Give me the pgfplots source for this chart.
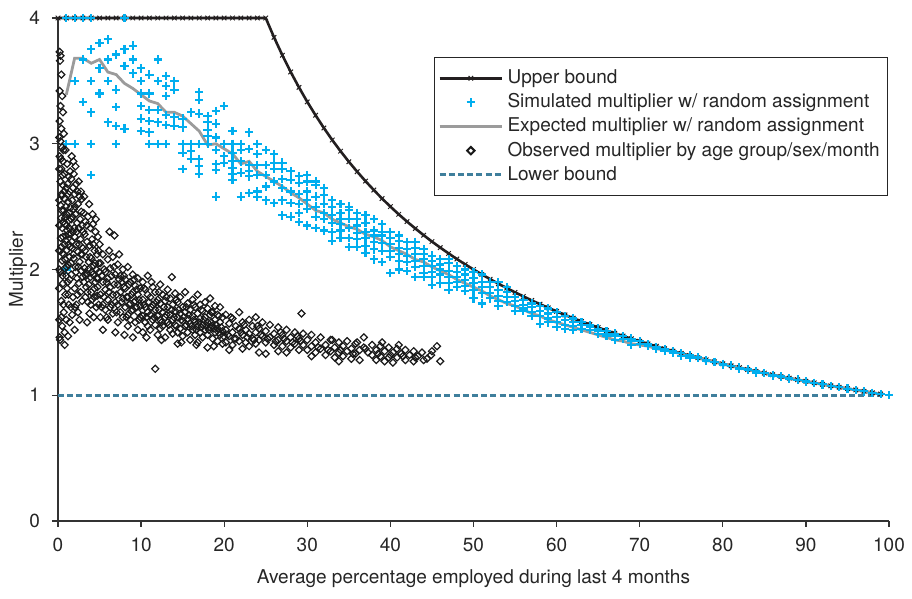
\documentclass[border=0pt]{standalone}
\usepackage{pgfplots}
\pgfplotsset{compat=1.18}
\usepackage{fontspec}
\setmainfont{TeX Gyre Heros}
\definecolor{ubcol}{HTML}{231F20}
\definecolor{simcol}{HTML}{00AEEF}
\definecolor{expcol}{HTML}{9B9B9B}
\definecolor{lbcol}{HTML}{3F7F9C}
\newcommand{\lfont}{\fontsize{9.5}{11}\selectfont}
\pgfplotsset{
  linelegend/.style={legend image code/.code={\draw[mark repeat=2,mark phase=2,##1] plot coordinates {(0cm,0cm)(0.55cm,0cm)(1.1cm,0cm)};}},
  marklegend/.style={legend image code/.code={\draw[##1] plot coordinates {(0.55cm,0cm)};}},
  diamlegend/.style={legend image code/.code={\draw[##1, mark size=1.3pt, mark options={line width=1pt, rotate=45}] plot coordinates {(0.55cm,0cm)};}},
}
\begin{document}
\begin{tikzpicture}
\begin{axis}[
  scale only axis, width=415.5pt, height=251.5pt,
  xmin=0, xmax=100, ymin=0, ymax=4,
  axis x line*=bottom, axis y line*=left,
  axis line style={line width=0.6pt, color=black!80, -},
  xtick={0,10,...,100}, ytick={0,1,2,3,4},
  tick align=outside, major tick length=3pt,
  tick style={line width=0.6pt, black!80},
  clip=false,
  xlabel={Average percentage employed during last 4 months},
  ylabel={Multiplier},
  ticklabel style={font=\lfont, text=black!85},
  xticklabel style={yshift=-2pt},
  yticklabel style={xshift=-2.5pt},
  label style={font=\lfont, text=black!85},
  xlabel style={at={(axis description cs:0.5,-0.115)}, anchor=center},
  ylabel style={at={(axis description cs:-0.048,0.5)}, anchor=center},
  /pgf/number format/assume math mode=true,
  legend style={at={(rel axis cs:0.999,0.922)}, anchor=north east,
    draw=black!85, line width=0.6pt, font=\lfont, text=black!85,
    cells={anchor=west}, row sep=-0.45pt, inner xsep=2pt, inner ysep=4pt},
]
\coordinate (O) at (rel axis cs:0,0);
% Upper bound
\addplot[color=ubcol, line width=1.3pt, mark=x, mark size=1.6pt,
  mark options={line width=0.5pt, solid}, linelegend]
coordinates {
(0,4)(1,4)(2,4)(3,4)(4,4)(5,4)(6,4)(7,4)(8,4)(9,4)(10,4)(11,4)(12,4)(13,4)(14,4)(15,4)(16,4)(17,4)(18,4)(19,4)(20,4)(21,4)(22,4)(23,4)(24,4)(25,4)
(26,3.846)(27,3.704)(28,3.571)(29,3.448)(30,3.333)(31,3.226)(32,3.125)(33,3.030)(34,2.941)(35,2.857)(36,2.778)(37,2.703)(38,2.632)(39,2.564)(40,2.5)
(41,2.439)(42,2.381)(43,2.326)(44,2.273)(45,2.222)(46,2.174)(47,2.128)(48,2.083)(49,2.041)(50,2.0)(51,1.961)(52,1.923)(53,1.887)(54,1.852)(55,1.818)
(56,1.786)(57,1.754)(58,1.724)(59,1.695)(60,1.667)(61,1.639)(62,1.613)(63,1.587)(64,1.5625)(65,1.538)(66,1.515)(67,1.493)(68,1.471)(69,1.449)(70,1.429)
(71,1.408)(72,1.389)(73,1.370)(74,1.351)(75,1.333)(76,1.316)(77,1.299)(78,1.282)(79,1.266)(80,1.25)(81,1.235)(82,1.220)(83,1.205)(84,1.190)(85,1.176)
(86,1.163)(87,1.149)(88,1.136)(89,1.124)(90,1.111)(91,1.099)(92,1.087)(93,1.075)(94,1.064)(95,1.053)(96,1.042)(97,1.031)(98,1.020)(99,1.010)
};
\addlegendentry{Upper bound}
% Simulated multiplier
\addplot[only marks, color=simcol, mark=+, mark size=2.1pt, mark options={line width=1.05pt}, marklegend]
coordinates {
(1,4)(1,3)(1,2)
(2,4)(2,3.5)(2,3)
(3,4)(3,3.67)(3,3.33)
(4,4)(4,3.75)(4,3.5)(4,3.25)(4,3)(4,2.75)
(5,3.8)(5,3.6)(5,3.4)
(6,3.83)(6,3.67)(6,3.5)(6,3.17)
(7,3.71)(7,3.43)(7,3.29)(7,3.14)(7,3)
(8,4)(8,3.75)(8,3.62)(8,3.12)
(9,3.78)(9,3.67)(9,3.56)
(10,3.6)(10,3.5)(10,3.4)(10,3.3)(10,3.2)(10,3.1)
(11,3.55)(11,3.4)(11,3.27)(11,3.18)(11,3.09)(11,3)
(12,3.67)(12,3.5)(12,3.27)(12,3.17)(12,3)
(13,3.54)(13,3.46)(13,3.38)(13,3.23)(13,3.15)(13,3)
(14,3.5)(14,3.43)(14,3.21)(14,3.14)
(15,3.2)(15,3.13)(15,3)(15,2.93)(15,2.8)
(16,3.25)(16,3)(16,2.94)(16,2.88)
(17,3.41)(17,3.35)(17,3.24)(17,3)(17,2.88)(17,2.82)(17,2.76)
(18,3.22)(18,3.17)(18,3.11)(18,3.06)(18,3)
(19,3.26)(19,3.16)(19,3.05)(19,2.95)(19,2.84)(19,2.79)(19,2.58)
(20,3.3)(20,3)(20,2.9)(20,2.85)
(21,3.1)(21,3)(21,2.93)(21,2.86)(21,2.81)(21,2.76)(21,2.71)
(22,3)(22,2.95)(22,2.86)(22,2.77)(22,2.58)
(23,3.09)(23,2.96)(23,2.83)(23,2.78)(23,2.74)(23,2.61)
(24,3)(24,2.92)(24,2.83)(24,2.75)(24,2.62)(24,2.58)
(25,2.95)(25,2.83)(25,2.75)(25,2.66)(25,2.55)
(26,2.92)(26,2.85)(26,2.8)(26,2.7)(26,2.53)
(27,2.85)(27,2.8)(27,2.72)(27,2.65)(27,2.55)(27,2.43)
(28,2.78)(28,2.71)(28,2.62)(28,2.53)(28,2.42)
(29,2.74)(29,2.69)(29,2.6)(29,2.52)(29,2.45)(29,2.38)
(30,2.75)(30,2.7)(30,2.62)(30,2.55)(30,2.48)(30,2.35)
(31,2.7)(31,2.67)(31,2.58)(31,2.5)(31,2.42)(31,2.33)
(32,2.65)(32,2.59)(32,2.52)(32,2.45)(32,2.4)(32,2.31)
(33,2.55)(33,2.5)(33,2.43)(33,2.37)(33,2.3)(33,2.23)
(34,2.52)(34,2.45)(34,2.4)(34,2.36)(34,2.31)(34,2.25)
(35,2.5)(35,2.47)(35,2.4)(35,2.33)(35,2.25)(35,2.18)
(36,2.45)(36,2.4)(36,2.35)(36,2.29)(36,2.24)(36,2.18)
(37,2.43)(37,2.37)(37,2.3)(37,2.25)(37,2.19)(37,2.13)
(38,2.4)(38,2.31)(38,2.27)(38,2.22)(38,2.16)(38,2.08)
(39,2.36)(39,2.3)(39,2.27)(39,2.21)(39,2.15)(39,2.06)
(40,2.3)(40,2.25)(40,2.2)(40,2.15)(40,2.1)(40,1.97)
(41,2.27)(41,2.23)(41,2.17)(41,2.12)(41,2.07)(41,2)
(42,2.22)(42,2.16)(42,2.11)(42,2.06)(42,1.99)
(43,2.22)(43,2.17)(43,2.12)(43,2.07)(43,2.02)(43,1.94)
(44,2.16)(44,2.12)(44,2.08)(44,2.03)(44,1.97)(44,1.94)
(45,2.11)(45,2.07)(45,2.03)(45,1.98)(45,1.94)(45,1.88)
(46,2.08)(46,2.04)(46,2)(46,1.96)(46,1.89)
(47,2.08)(47,2.05)(47,1.99)(47,1.94)(47,1.89)(47,1.84)
(48,2.03)(48,1.98)(48,1.94)(48,1.9)(48,1.86)
(49,2)(49,1.96)(49,1.92)(49,1.87)(49,1.83)
(50,1.98)(50,1.93)(50,1.89)(50,1.84)(50,1.77)
(51,1.96)(51,1.9)(51,1.86)(51,1.81)(51,1.73)
(52,1.9)(52,1.86)(52,1.81)(52,1.77)
(53,1.9)(53,1.84)(53,1.79)(53,1.75)(53,1.71)
(54,1.86)(54,1.82)(54,1.78)(54,1.74)
(55,1.78)(55,1.75)(55,1.71)(55,1.67)
(56,1.76)(56,1.72)(56,1.69)(56,1.67)
(57,1.73)(57,1.7)(57,1.66)(57,1.63)
(58,1.71)(58,1.67)(58,1.63)(58,1.57)
(59,1.69)(59,1.65)(59,1.61)(59,1.58)
(60,1.66)(60,1.62)(60,1.58)(60,1.545)
(61,1.63)(61,1.6)(61,1.56)(61,1.53)
(62,1.61)(62,1.58)(62,1.55)(62,1.52)
(63,1.58)(63,1.56)(63,1.53)
(64,1.56)(64,1.54)(64,1.52)
(65,1.53)(65,1.51)(65,1.49)
(66,1.51)(66,1.49)(66,1.47)
(67,1.49)(67,1.47)(67,1.44)
(68,1.47)(68,1.45)
(69,1.45)(69,1.43)(69,1.4)
(70,1.43)(70,1.41)
(71,1.405)(71,1.39)(72,1.385)(72,1.37)(73,1.37)(73,1.35)(74,1.35)(74,1.34)(75,1.333)(75,1.31)
(76,1.316)(76,1.3)(77,1.3)(78,1.28)(78,1.27)(79,1.265)(80,1.25)(80,1.24)(81,1.235)(82,1.22)(82,1.21)
(83,1.205)(84,1.19)(84,1.18)(85,1.176)(86,1.163)(86,1.155)(87,1.149)(88,1.136)(88,1.13)(89,1.124)
(90,1.111)(90,1.105)(91,1.099)(92,1.087)(93,1.075)(94,1.064)(95,1.053)(96,1.042)(97,1.031)(98,1.02)(99,1.01)(100,1)
};
\addlegendentry{Simulated multiplier w/ random assignment}
% Expected multiplier
\addplot[color=expcol, line width=1.4pt, linelegend]
coordinates {
(1,3.39)(2,3.68)(3,3.68)(4,3.64)(5,3.67)(6,3.57)(7,3.55)(8,3.48)(9,3.44)(10,3.39)
(11,3.34)(12,3.32)(13,3.25)(14,3.25)(15,3.22)(16,3.16)(17,3.10)(18,2.99)(19,3.00)(20,2.96)
(21,2.92)(22,2.84)(23,2.86)(24,2.78)(25,2.74)(26,2.70)(27,2.66)(28,2.61)(29,2.57)(30,2.52)
(31,2.47)(32,2.45)(33,2.40)(34,2.37)(35,2.34)(36,2.32)(37,2.28)(38,2.26)(39,2.23)(40,2.18)
(41,2.15)(42,2.12)(43,2.08)(44,2.06)(45,2.02)(46,1.99)(47,1.96)(48,1.92)(49,1.89)(50,1.86)
(51,1.83)(52,1.79)(53,1.76)(54,1.73)(55,1.71)(56,1.68)(57,1.65)(58,1.63)(59,1.60)(60,1.58)
(61,1.56)(62,1.54)(63,1.52)(64,1.50)(65,1.48)(66,1.46)(67,1.44)(68,1.43)(69,1.41)(70,1.40)
(71,1.39)(72,1.37)(73,1.36)(74,1.345)(75,1.33)(76,1.31)(77,1.295)(78,1.28)(79,1.265)(80,1.248)
(81,1.233)(82,1.218)(83,1.203)(84,1.189)(85,1.175)(86,1.162)(87,1.148)(88,1.135)(89,1.123)(90,1.110)
(91,1.098)(92,1.086)(93,1.075)(94,1.063)(95,1.052)(96,1.041)(97,1.030)(98,1.020)(99,1.010)
};
\addlegendentry{Expected multiplier w/ random assignment}
% Observed multiplier
\addplot[only marks, color=black!90, mark=square, mark size=1.25pt,
  mark options={rotate=45, line width=0.6pt}, diamlegend]
coordinates {
(0.2,3.73)(0.3,3.7)(0.25,3.66)(0.4,3.55)(0.2,3.42)(0.5,3.38)(0.3,3.3)(0.6,3.25)(0.2,3.18)(0.4,3.12)(0.7,3.08)(0.3,3.02)(0.5,2.97)(0.9,2.95)(0.2,2.9)(0.6,2.86)
(1.1,2.84)(0.4,2.8)(0.8,2.76)(1.3,2.74)(0.3,2.7)(0.6,2.67)(1,2.65)(1.4,2.62)(0.5,2.59)(0.8,2.56)(1.2,2.54)(0.3,2.51)(1.5,2.49)(0.7,2.47)(1,2.44)(0.4,2.41)
(1.3,2.39)(0.8,2.36)(0.5,2.33)(1.1,2.31)(1.5,2.28)(0.6,2.26)(0.9,2.23)(1.3,2.2)(0.4,2.18)(1,2.15)(0.7,2.12)(1.4,2.1)(0.5,2.07)(1.2,2.04)(0.8,2.01)(0.3,1.98)
(1,1.95)(1.4,1.92)(0.6,1.89)(1.1,1.85)(0.9,1.8)(0.4,1.75)(1.3,1.72)(0.7,1.66)(1,1.6)(0.5,1.55)(1.4,1.58)(0.8,1.5)(0.2,1.46)(1.2,1.47)(0.4,1.62)(0.25,1.44)(0.8,1.4)
(0.55,2.75)(0.95,2.5)(1.15,2.68)(0.65,2.38)(1.25,2.28)(0.75,2.2)(1.35,2.45)(0.45,2.6)(1.05,2.35)(0.85,2.08)(1.45,2.18)(0.35,2.25)
(1.6,2.72)(1.8,2.65)(2,2.6)(2.2,2.68)(1.7,2.55)(2.4,2.52)(2.6,2.58)(1.9,2.48)(2.1,2.44)(2.8,2.46)(1.6,2.4)(2.3,2.37)(2.5,2.33)(2.9,2.35)(1.8,2.3)(2,2.26)
(2.7,2.24)(2.2,2.2)(1.7,2.17)(2.4,2.14)(2.9,2.12)(1.9,2.09)(2.6,2.06)(2.1,2.02)(2.8,1.99)(1.6,1.96)(2.3,1.93)(2.5,1.89)(2,1.85)(2.7,1.82)(1.8,1.78)(2.2,1.72)
(2.9,1.75)(2.4,1.66)(2,1.52)(2.6,1.6)(1.7,1.64)(1.65,2.9)(2.1,2.82)(1.9,2.76)(2.5,2.7)
(0.15,2.55)(0.15,2.35)(0.15,2.15)(0.15,2)(0.15,2.8)(0.15,3.05)(0.15,1.85)(0.15,1.6)
(0.35,2.88)(0.45,2.47)(0.55,2.13)(0.65,2.95)(0.75,2.62)(0.85,2.41)(0.95,2.27)(1.05,2.02)(1.15,1.9)(1.25,2.6)(1.35,2.33)(1.45,2.78)(1.55,2.05)(1.65,2.22)
(1.75,2.42)(1.85,2.12)(1.95,2.33)(2.05,2.5)(2.15,1.98)(2.25,2.3)(2.35,2.62)(2.45,2.02)(2.55,2.2)(2.65,2.4)(2.75,2.12)(2.85,2.56)(2.95,1.94)(2.05,1.7)
(2.35,1.8)(1.55,1.7)(1.25,1.8)(0.55,1.95)(0.65,1.72)(1.85,2.86)(2.75,2.62)
(3.1,2.45)(3.3,2.38)(3.6,2.42)(3.9,2.33)(4.2,2.36)(4.5,2.3)(4.8,2.26)(3.2,2.28)(3.5,2.22)(3.8,2.19)(4.1,2.24)(4.4,2.15)(4.7,2.12)(3,2.17)(3.4,2.1)(3.7,2.06)
(4,2.09)(4.3,2.03)(4.6,2)(4.9,2.05)(3.2,2.01)(3.5,1.97)(3.9,1.94)(4.2,1.96)(4.5,1.9)(4.8,1.93)(3.1,1.9)(3.4,1.86)(3.7,1.88)(4,1.82)(4.4,1.85)(4.7,1.79)
(3.3,1.78)(3.6,1.74)(4.1,1.76)(4.6,1.7)(3.8,1.65)(4.3,1.62)(3.5,1.58)(4.9,1.72)
(3.05,2.3)(3.25,2.15)(3.45,2.35)(3.65,2)(3.85,2.1)(4.05,1.98)(4.25,2.2)(4.45,2.05)(4.65,1.93)(4.85,2.15)(3.15,2.58)(3.55,1.82)(3.95,1.72)(4.35,1.78)
(4.75,1.86)(3.75,2.52)(4.15,2.44)(3.35,1.95)(4.55,2.4)(4.95,1.98)
(5.1,2.05)(5.1,1.8)(5.1,1.62)(5.4,2.12)(5.4,1.9)(5.4,1.72)(5.7,1.98)(5.7,1.84)(5.7,1.68)(6,2.08)(6,1.93)(6,1.76)(6,1.6)(6.3,2.01)(6.3,1.86)(6.3,1.7)
(6.6,2.1)(6.6,1.8)(6.6,1.65)(6.8,2.27)(6.9,1.96)(6.9,1.74)(7.2,2.04)(7.2,1.88)(7.2,1.72)(7.2,1.58)(7.5,1.95)(7.5,1.82)(7.5,1.66)(7.8,2)(7.8,1.77)(7.8,1.62)
(8.1,1.92)(8.1,1.85)(8.1,1.7)(8.4,2.02)(8.4,1.78)(8.4,1.64)(8.4,1.55)(8.7,1.9)(8.7,1.73)(8.7,1.6)(9,1.96)(9,1.82)(9,1.68)(9.3,1.87)(9.3,1.75)(9.3,1.58)
(9.6,1.93)(9.6,1.8)(9.6,1.66)(9.6,1.52)(9.9,1.85)(9.9,1.71)(9.9,1.62)
(5.25,1.95)(5.55,1.78)(5.85,1.9)(6.15,1.82)(6.45,1.95)(6.75,1.88)(7.05,1.8)(7.35,1.92)(7.65,1.74)(7.95,1.86)(8.25,1.78)(8.55,1.88)(8.85,1.8)(9.15,1.74)
(9.45,1.84)(9.75,1.76)(5.25,1.7)(5.85,1.62)(6.45,1.72)(7.05,1.66)(7.65,1.9)(8.25,1.62)(8.85,1.67)(9.45,1.7)(5.55,2)(6.15,2.15)(6.75,2.02)(7.35,2.12)
(7.95,1.95)(8.55,1.72)(9.15,1.92)(9.75,1.6)(5.4,1.52)(6.9,1.5)(8,1.48)(9,1.46)(5,2.2)(6.2,2.3)
(10.2,1.9)(10.2,1.76)(10.2,1.63)(10.2,1.5)(10.5,1.84)(10.5,1.7)(10.5,1.58)(10.8,1.95)(10.8,1.8)(10.8,1.66)(10.8,1.55)(11.1,1.78)(11.1,1.64)(11.1,1.52)
(11.4,1.86)(11.4,1.72)(11.4,1.6)(11.7,1.82)(11.7,1.68)(11.7,1.21)(11.7,1.56)(12,1.76)(12,1.63)(12,1.48)(12.3,1.88)(12.3,1.73)(12.3,1.6)(12.3,1.53)
(12.6,1.8)(12.6,1.66)(12.6,1.55)(12.9,1.75)(12.9,1.62)(12.9,1.46)(13.2,1.84)(13.2,1.7)(13.2,1.58)(13.5,1.77)(13.5,1.64)(13.5,1.52)(13.7,1.94)
(13.8,1.72)(13.8,1.6)(13.8,1.49)(14.1,1.81)(14.1,1.67)(14.1,1.56)(14.4,1.74)(14.4,1.62)(14.4,1.5)(14.4,1.41)(14.7,1.78)(14.7,1.65)(14.7,1.53)
(15,1.7)(15,1.59)(15,1.47)(15.3,1.82)(15.3,1.66)(15.3,1.55)(15.6,1.73)(15.6,1.61)(15.6,1.5)(15.9,1.68)(15.9,1.57)(15.9,1.44)(16.2,1.76)(16.2,1.63)(16.2,1.52)
(16.5,1.7)(16.5,1.58)(16.5,1.48)(16.8,1.8)(16.8,1.65)(16.8,1.55)(16.8,1.42)(17.1,1.72)(17.1,1.61)(17.1,1.5)(17.4,1.67)(17.4,1.56)(17.4,1.46)
(17.7,1.74)(17.7,1.62)(17.7,1.52)(18,1.69)(18,1.58)(18,1.48)(18,1.38)(18.3,1.77)(18.3,1.64)(18.3,1.54)(18.6,1.66)(18.6,1.55)(18.6,1.45)
(18.9,1.71)(18.9,1.6)(18.9,1.5)(19.2,1.64)(19.2,1.53)(19.2,1.43)(19.5,1.7)(19.5,1.58)(19.5,1.48)(19.8,1.62)(19.8,1.51)(19.8,1.41)
(10.35,1.72)(10.65,1.62)(10.95,1.74)(11.25,1.7)(11.55,1.62)(11.85,1.74)(12.15,1.68)(12.45,1.58)(12.75,1.7)(13.05,1.64)(13.35,1.56)(13.65,1.68)
(13.95,1.62)(14.25,1.55)(14.55,1.68)(14.85,1.6)(15.15,1.62)(15.45,1.56)(15.75,1.64)(16.05,1.55)(16.35,1.6)(16.65,1.52)(16.95,1.58)(17.25,1.54)
(17.55,1.6)(17.85,1.55)(18.15,1.52)(18.45,1.58)(18.75,1.53)(19.05,1.56)(19.35,1.5)(19.65,1.54)(19.95,1.47)(10.35,1.85)(11.25,1.9)(12.15,1.82)
(13.05,1.78)(14.25,1.76)(15.45,1.7)(16.35,1.72)(17.25,1.68)(18.45,1.66)(19.35,1.63)(10.65,1.46)(12.45,1.44)(14.85,1.42)(16.65,1.4)(18.75,1.39)
(20.2,1.64)(20.2,1.52)(20.2,1.42)(20.6,1.57)(20.6,1.47)(20.6,1.36)(21,1.61)(21,1.5)(21,1.4)(21.4,1.55)(21.4,1.45)(21.8,1.66)(21.8,1.53)(21.8,1.43)
(22.2,1.58)(22.2,1.48)(22.2,1.37)(22.6,1.52)(22.6,1.42)(23,1.6)(23,1.49)(23,1.39)(23.4,1.55)(23.4,1.45)(23.8,1.62)(23.8,1.5)(23.8,1.41)
(24.2,1.53)(24.2,1.44)(24.2,1.34)(24.6,1.58)(24.6,1.47)(25,1.51)(25,1.42)(25,1.33)(25.5,1.56)(25.5,1.46)(26,1.49)(26,1.4)(26.5,1.54)(26.5,1.44)(26.5,1.35)
(27,1.48)(27,1.39)(27.5,1.52)(27.5,1.43)(27.5,1.34)(28,1.46)(28,1.38)(28.5,1.5)(28.5,1.41)(29,1.45)(29,1.36)(29.3,1.65)(29.5,1.49)(29.5,1.4)
(20.4,1.48)(21.2,1.45)(22,1.5)(22.8,1.46)(23.6,1.44)(24.4,1.48)(25.2,1.45)(26.2,1.43)(27.2,1.45)(28.2,1.42)(29.2,1.43)(20.8,1.62)(22.4,1.56)(24,1.55)
(26.8,1.5)(28.8,1.47)
(30,1.44)(30,1.36)(30.5,1.48)(30.5,1.39)(30.5,1.31)(31,1.42)(31,1.34)(31.6,1.46)(31.6,1.37)(32.2,1.4)(32.2,1.32)(32.8,1.44)(32.8,1.35)
(33.3,1.38)(33.3,1.3)(33.8,1.42)(33.8,1.34)(33.8,1.27)(34.3,1.39)(34.3,1.31)(34.8,1.43)(34.8,1.35)(35.3,1.37)(35.3,1.29)(35.8,1.41)(35.8,1.33)
(36.3,1.36)(36.3,1.28)(36.8,1.46)(36.8,1.38)(37.3,1.34)(37.8,1.4)(37.8,1.32)(38.3,1.36)(38.3,1.28)(38.8,1.39)(38.8,1.31)(39.3,1.35)(39.3,1.27)
(39.8,1.38)(39.8,1.3)(40.3,1.34)(40.3,1.26)(40.8,1.37)(40.8,1.3)(41.3,1.33)(41.8,1.36)(41.8,1.28)(42.3,1.32)(42.8,1.35)(42.8,1.27)(43.3,1.31)
(43.8,1.34)(44.4,1.29)(44.9,1.32)(45.6,1.39)(46,1.27)
(31.3,1.38)(32.5,1.36)(34,1.36)(35.5,1.33)(37,1.37)(38.5,1.33)(40,1.32)(41.5,1.31)(43,1.3)(44,1.28)(45,1.35)(41,1.4)(39,1.42)(36,1.42)(33,1.44)
};
\addlegendentry{Observed multiplier by age group/sex/month}
% Lower bound
\addplot[color=lbcol, line width=1.4pt, dash pattern=on 3pt off 1.6pt, linelegend]
coordinates {(0,1)(10,1)(20,1)(30,1)(40,1)(50,1)(60,1)(70,1)(80,1)(90,1)(99,1)};
\addlegendentry{Lower bound}
\end{axis}
\pgfresetboundingbox
\path (O) ++(-29pt,-39pt) rectangle ++(456pt,299.5pt);
\end{tikzpicture}
\end{document}
